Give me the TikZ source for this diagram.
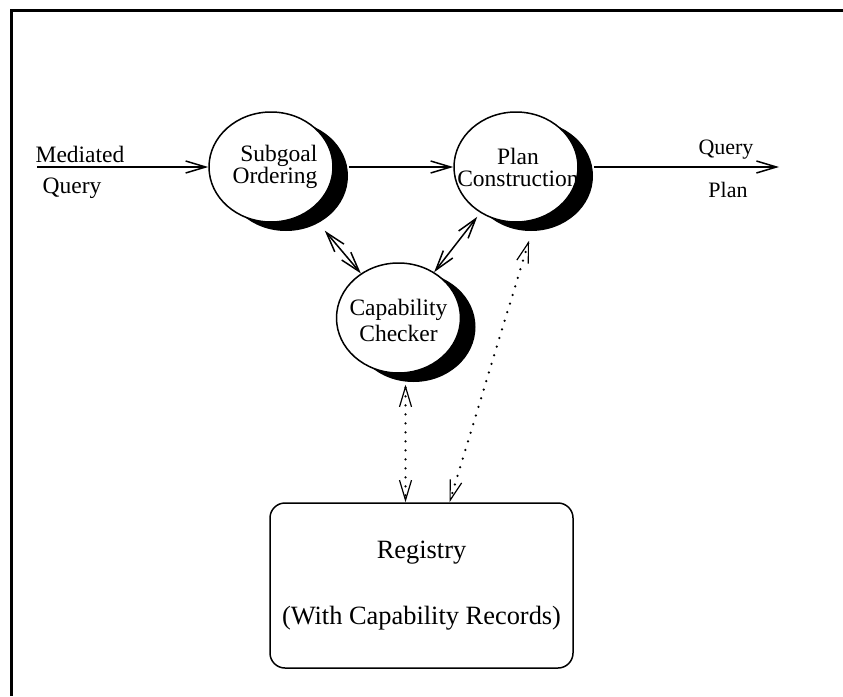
\documentclass[tikz,border=0pt]{standalone}
\usepackage{fontspec}
\setmainfont{Liberation Serif}
\usetikzlibrary{arrows.meta,shapes.geometric,backgrounds}

% black shadow behind an ellipse
\newcommand{\moon}[1]{%
  \begin{scope}[on background layer]
    \fill ([shift={(15pt,-9pt)}]#1.center) ellipse [x radius=62pt, y radius=55pt];
  \end{scope}}

\begin{document}
\begin{tikzpicture}[>={Straight Barb[length=20pt,width=12pt]}, line width=1.5pt,
  proc/.style={ellipse, draw, fill=white, minimum width=124pt, minimum height=110pt, inner sep=0pt},
  txt/.style={font=\fontsize{23.5}{22}\selectfont, inner sep=0pt},
  side/.style={font=\fontsize{22}{26}\selectfont, inner sep=0pt},
  reg/.style={draw, rounded corners=15pt, minimum width=303pt, minimum height=165pt,
    align=center, font=\fontsize{26.4}{31.7}\selectfont},
  dots/.style={line width=2.5pt, dash pattern=on 0pt off 9pt, line cap=round,
    >={Straight Barb[length=20pt,width=12pt,line width=1.2pt]}, <->}]
  \useasboundingbox (0pt, 0pt) rectangle (843pt, -696pt);
  \draw[line width=3pt] (843pt, -10pt) -- (11pt, -10pt) -- (11pt, -696pt);

  \draw (271.0pt, -167.0pt)node[proc](sg){};
  \draw (516.0pt, -167.0pt)node[proc](pc){};
  \draw (398.5pt, -318.0pt)node[proc](cc){};
  \draw (421.5pt, -585.5pt)node[reg](reg){Registry\\[34pt](With Capability Records)};
  \moon{sg}
  \moon{pc}
  \moon{cc}

  \draw (sg)node[txt, align=right, xshift=4pt](sg-t){Subgoal\\Ordering};
  \draw (pc)node[txt, align=center, xshift=2pt](pc-t){Plan\\Construction};
  \draw (cc)node[txt, align=center, font=\fontsize{23.5}{26}\selectfont, yshift=-2pt](cc-t){Capability\\Checker};

  \coordinate (in) at (37pt, -167pt);
  \coordinate (out) at (779pt, -167pt);
  \draw (80.0pt, -154.0pt)node[txt](med){Mediated};
  \draw (72.0pt, -188.0pt)node[txt](mq){Query};
  \draw (726.0pt, -150.0pt)node[side](qp){Query};
  \draw (728.0pt, -190.0pt)node[side](pl){Plan};

  \draw[->] (in) -- (sg.west);
  \draw[->] ([xshift=15pt]sg.east) -- (pc.west);
  \draw[->] ([xshift=15pt]pc.east) -- (out);
  \draw[<->, shorten <=25pt] (sg) -- (cc);
  \draw[<->, shorten <=5pt] (pc) -- (cc);
  \draw[dots] ([xshift=7pt, yshift=-11pt]cc.south) -- ([xshift=-16pt]reg.north);
  \draw[dots] ([xshift=13pt, yshift=-18pt]pc.south) -- ([xshift=28pt]reg.north);
\end{tikzpicture}
\end{document}
